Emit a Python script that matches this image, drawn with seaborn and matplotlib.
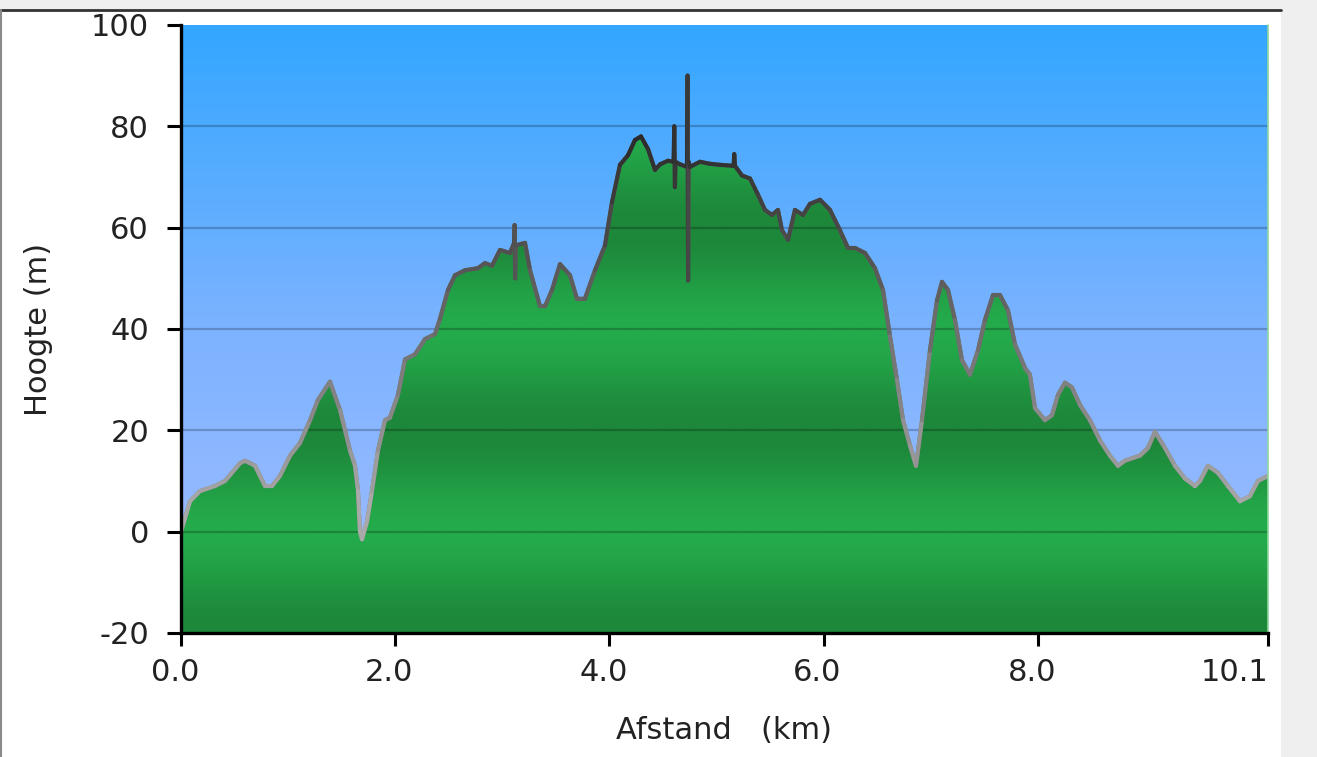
import numpy as np
import pandas as pd
import matplotlib
matplotlib.use("Agg")
import matplotlib.pyplot as plt
import matplotlib.transforms as mtransforms
import seaborn as sns
from matplotlib.collections import LineCollection
from matplotlib.colors import LinearSegmentedColormap, Normalize
from matplotlib.patches import Rectangle
from matplotlib.lines import Line2D

# ---- data ----
dist_km = [0.00, 0.084, 0.177, 0.317, 0.411, 0.551, 0.598, 0.691, 0.784, 0.850,
           0.924, 1.018, 1.111, 1.205, 1.279, 1.391, 1.485, 1.578, 1.625, 1.653,
           1.671, 1.690, 1.737, 1.783, 1.839, 1.905, 1.951, 2.026, 2.092, 2.185,
           2.278, 2.372, 2.418, 2.493, 2.558, 2.652, 2.773, 2.838, 2.904, 2.979,
           3.072, 3.110, 3.115, 3.120, 3.126, 3.212, 3.259, 3.352, 3.399, 3.464,
           3.539, 3.632, 3.697, 3.772, 3.866, 3.959, 4.024, 4.099, 4.174, 4.239,
           4.295, 4.361, 4.426, 4.473, 4.547, 4.600, 4.606, 4.612, 4.618, 4.659,
           4.725, 4.730, 4.735, 4.740, 4.753, 4.846, 4.939, 5.033, 5.160, 5.166,
           5.173, 5.238, 5.313, 5.388, 5.453, 5.518, 5.574, 5.612, 5.668, 5.733,
           5.808, 5.873, 5.967, 6.060, 6.153, 6.228, 6.293, 6.387, 6.480, 6.555,
           6.620, 6.685, 6.742, 6.807, 6.863, 6.919, 6.993, 7.059, 7.106, 7.162,
           7.227, 7.292, 7.367, 7.442, 7.507, 7.582, 7.647, 7.722, 7.787, 7.881,
           7.927, 7.974, 8.067, 8.133, 8.189, 8.254, 8.319, 8.394, 8.487, 8.581,
           8.674, 8.749, 8.814, 8.954, 9.029, 9.094, 9.188, 9.281, 9.374, 9.468,
           9.515, 9.589, 9.683, 9.776, 9.888, 9.981, 10.056, 10.15]
elev_m = [0.0, 6.0, 8.0, 9.0, 10.0, 13.5, 14.0, 13.0, 9.0, 9.0,
          11.0, 15.0, 17.5, 22.0, 26.0, 29.6, 24.0, 16.0, 13.0, 8.0,
          0.0, -1.5, 2.0, 8.0, 16.0, 22.0, 22.5, 27.0, 34.0, 35.0,
          38.0, 39.0, 42.0, 47.7, 50.6, 51.6, 52.0, 53.0, 52.5, 55.6,
          55.0, 57.0, 60.5, 50.0, 56.5, 57.0, 51.6, 44.5, 44.5, 47.7,
          52.8, 50.6, 46.0, 46.0, 51.6, 56.5, 65.0, 72.4, 74.3, 77.3,
          78.0, 75.5, 71.4, 72.5, 73.2, 73.0, 80.0, 68.0, 73.0, 72.5,
          72.0, 90.0, 49.6, 73.0, 72.0, 73.0, 72.6, 72.4, 72.2, 74.5,
          72.2, 70.3, 69.7, 66.5, 63.5, 62.5, 63.5, 59.5, 57.6, 63.5,
          62.5, 64.7, 65.5, 63.5, 59.5, 56.0, 56.0, 55.0, 52.0, 47.7,
          38.6, 30.0, 22.0, 17.0, 13.0, 22.0, 35.7, 45.6, 49.3, 47.7,
          41.8, 33.9, 31.0, 35.8, 41.8, 46.7, 46.7, 43.7, 37.0, 32.3,
          31.0, 24.4, 22.0, 23.0, 27.0, 29.4, 28.5, 25.0, 22.0, 18.0,
          15.0, 13.0, 14.0, 15.0, 16.5, 19.7, 16.5, 13.0, 10.5, 9.0,
          10.0, 13.0, 11.6, 9.0, 6.0, 7.0, 10.0, 11.0]

x_ticks = [0.0, 2.0, 4.0, 6.0, 8.0, 10.15]
x_tick_labels = ["0.0", "2.0", "4.0", "6.0", "8.0", "10.1"]
y_ticks = [-20, 0, 20, 40, 60, 80, 100]
grid_levels = [0, 20, 40, 60, 80]
x_label = "Afstand   (km)"
y_label = "Hoogte (m)"

X_MAX = 10.15
Y_MIN, Y_MAX = -20, 100

df = pd.DataFrame({"dist": dist_km, "elev": elev_m})

sns.set_theme(style="white")
plt.rcParams["font.family"] = ["DejaVu Sans"]
plt.rcParams["axes.unicode_minus"] = False

W, H = 1317, 757
fig = plt.figure(figsize=(W / 100, H / 100), dpi=100, facecolor="#efefef")
# white panel with borders
fig.patches.append(Rectangle((0, 0), 1281 / W, 747 / H, transform=fig.transFigure,
                             facecolor="white", edgecolor="none", zorder=-10))
fig.add_artist(Line2D([0, 1281 / W], [747 / H, 747 / H], color="#333333", lw=2.0))
fig.add_artist(Line2D([1 / W, 1 / W], [0, 747 / H], color="#8a8a8a", lw=1.5))

ax = fig.add_axes([181 / W, 1 - 633 / H, (1268 - 181) / W, (633 - 25) / H])
ax.set_xlim(0, X_MAX)
ax.set_ylim(Y_MIN, Y_MAX)

# sky gradient
sky = LinearSegmentedColormap.from_list("sky", ["#a4bdff", "#7cb3ff", "#33a6ff"])
ax.imshow(np.linspace(0, 1, 256).reshape(-1, 1), cmap=sky, origin="lower",
          extent=[0, X_MAX, Y_MIN, Y_MAX], aspect="auto", zorder=0)

# terrain fill with banded green gradient
poly = ax.fill_between(df["dist"], df["elev"], Y_MIN, facecolor="none",
                       edgecolor="none", zorder=1)
yy = np.linspace(Y_MIN, Y_MAX, 800)
shade = 0.5 + 0.5 * np.cos(2 * np.pi * (yy - 20) / 40)
green = LinearSegmentedColormap.from_list("g", ["#24ab4b", "#1d873a"])
img = ax.imshow(shade.reshape(-1, 1), cmap=green, origin="lower", vmin=0, vmax=1,
                extent=[0, X_MAX, Y_MIN, Y_MAX], aspect="auto", zorder=1)
img.set_clip_path(poly.get_paths()[0], ax.transData)

# grid lines
for g in grid_levels:
    ax.axhline(g, color="black", alpha=0.22, lw=1.6, zorder=3)

# outline
sns.lineplot(data=df, x="dist", y="elev", estimator=None, sort=False,
             color="#6a6a6a", lw=2.8, ax=ax, zorder=4)
pts = np.column_stack([df["dist"], df["elev"]])
segs = np.stack([pts[:-1], pts[1:]], axis=1)
line_cmap = LinearSegmentedColormap.from_list("ln", ["#a9a9a9", "#2a2a2a"])
lc = LineCollection(segs, cmap=line_cmap, norm=Normalize(5, 78), lw=3.0, zorder=5,
                    capstyle="round", joinstyle="round")
lc.set_array((pts[:-1, 1] + pts[1:, 1]) / 2)
ax.add_collection(lc)

ax.axvline(X_MAX, color="#8fd6a0", lw=1.2, zorder=6, clip_on=False)

# axes styling
sns.despine(ax=ax)
for s in ["left", "bottom"]:
    ax.spines[s].set_color("black")
    ax.spines[s].set_linewidth(2.4)
    ax.spines[s].set_zorder(7)

ax.set_xticks(x_ticks)
ax.set_xticklabels(x_tick_labels)
ax.set_yticks(y_ticks)
ax.tick_params(axis="both", which="both", direction="out", color="black",
               labelcolor="#222222", labelsize=22, width=2.2)
ax.tick_params(axis="y", left=True, length=10, pad=13)
ax.tick_params(axis="x", bottom=True, length=9, pad=9)

shift = mtransforms.ScaledTranslation(-6 / 100, 0, fig.dpi_scale_trans)
xlabels = ax.get_xticklabels()
for lab in xlabels:
    lab.set_transform(lab.get_transform() + shift)
xlabels[-1].set_horizontalalignment("right")
xlabels[-1].set_transform(xlabels[-1].get_transform()
                          + mtransforms.ScaledTranslation(6 / 100, 0, fig.dpi_scale_trans))

ax.set_xlabel(x_label, fontsize=22, color="#222222", labelpad=21)
ax.set_ylabel(y_label, fontsize=22, color="#222222", labelpad=27)
ax.grid(False)

fig.savefig("out.png", dpi=100, facecolor=fig.get_facecolor())
